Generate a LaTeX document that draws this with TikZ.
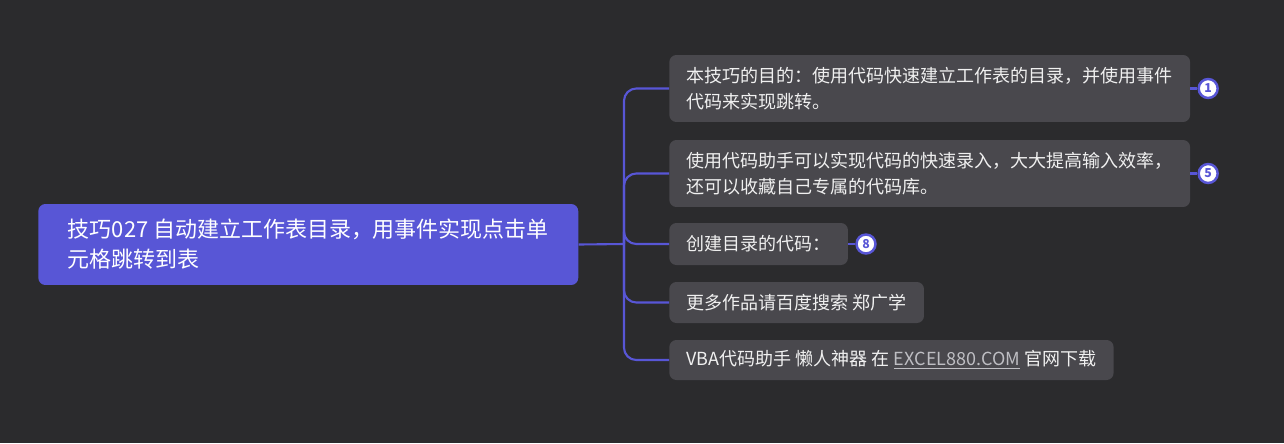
\documentclass[tikz,border=0pt]{standalone}
\usepackage{xcolor}
\usepackage{fontspec}
\setmainfont{Noto Sans CJK SC}
\usepackage{tikz}
\usetikzlibrary{positioning}
\definecolor{mapbg}{RGB}{43,43,45}
\definecolor{mapblue}{RGB}{88,86,214}
\definecolor{mapgray}{RGB}{73,72,77}
\definecolor{maptext}{RGB}{240,240,240}
\definecolor{maplink}{RGB}{190,190,195}

\begin{document}
\begin{tikzpicture}[x=0.02cm, y=-0.02cm,
  rootbox/.style={fill=mapblue, rounded corners=4pt, text=white, align=left,
    inner xsep=0.58cm, minimum width=10.8cm, minimum height=1.62cm,
    font=\fontsize{12.5pt}{17pt}\selectfont},
  topic/.style={fill=mapgray, rounded corners=4pt, text=maptext, align=left,
    inner xsep=0.345cm, font=\fontsize{10.25pt}{14.8pt}\selectfont},
  badge/.style={circle, draw=mapblue, line width=1.4pt, fill=white,
    text=mapblue, inner sep=0pt, minimum size=0.38cm,
    font=\fontsize{7pt}{7pt}\selectfont\bfseries},
  conn/.style={draw=mapblue, line width=1.2pt}]
\fill[mapbg] (0,0) rectangle (1284,443);
\useasboundingbox (0,0) rectangle (1284,443);

% central topic
\node[rootbox, anchor=west] (root) at (38,244.5)
  {技巧027 自动建立工作表目录，用事件实现点击单\\元格跳转到表};

% subtopics
\node[topic, anchor=west, minimum height=1.34cm] (aim) at (669,88.5)
  {本技巧的目的：使用代码快速建立工作表的目录，并使用事件\\代码来实现跳转。};
\node[topic, anchor=west, minimum height=1.34cm] (helper) at (669,173.5)
  {使用代码助手可以实现代码的快速录入，大大提高输入效率，\\还可以收藏自己专属的代码库。};
\node[topic, anchor=west, minimum height=0.84cm] (code) at (669,244)
  {创建目录的代码：};
\node[topic, anchor=west, minimum height=0.82cm] (more) at (669,302.5)
  {更多作品请百度搜索 郑广学};
\node[topic, anchor=west, minimum height=0.8cm] (vba) at (669,360)
  {VBA代码助手 懒人神器 在 {\color{maplink}\underline{EXCEL880.COM}} 官网下载};

% numbered markers
\node[badge, right=0.14cm of aim] (n1) {1};
\node[badge, right=0.14cm of helper] (n5) {5};
\node[badge, right=0.14cm of code] (n8) {8};

\coordinate (bus) at (624,244);
\draw[conn] (root.east) -- (bus);
\foreach \t in {aim,helper,code,more,vba}
  \draw[conn, rounded corners=7pt] (bus) |- (\t.west);

\draw[conn] (aim.east) -- (n1);
\draw[conn] (helper.east) -- (n5);
\draw[conn] (code.east) -- (n8);
\end{tikzpicture}
\end{document}
